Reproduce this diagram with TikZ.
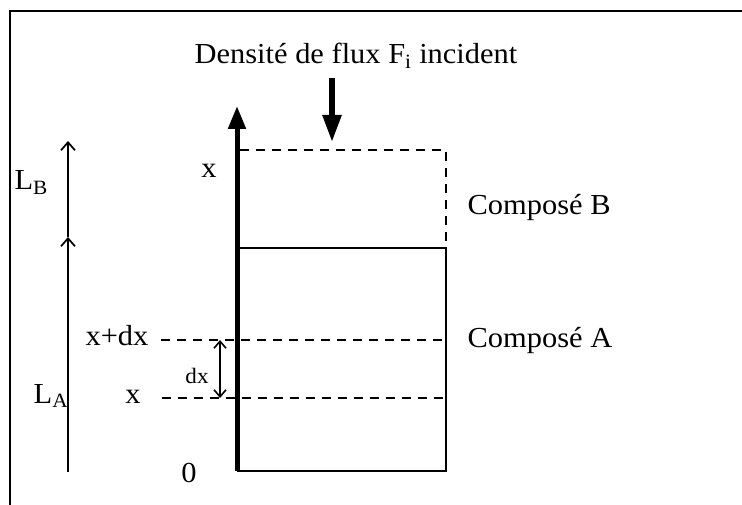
\documentclass[tikz,border=0pt]{standalone}
\usepackage{fontspec}
\setmainfont[FakeStretch=1.05]{Liberation Serif}
\usetikzlibrary{arrows.meta}

\begin{document}
\begin{tikzpicture}[x=1pt, y=-1pt, line width=1.3pt]
        \tikzstyle{lbl} = [inner sep=0pt, anchor=base, font=\fontsize{29}{33}\selectfont]
        \tikzstyle{small} = [inner sep=0pt, anchor=base, font=\fontsize{22}{26}\selectfont]
        \tikzstyle{open} = [-{Straight Barb[length=8pt, width=14pt]}, line width=1.7pt]
        \tikzstyle{level} = [dash pattern=on 9pt off 7pt]

        \useasboundingbox (0,0) rectangle (742,505);
        % frame (top and left only)
        \draw (10,505) -- (10,11) -- (742,11);

        % corners of the two layers
        \coordinate (o) at (237,471);
        \coordinate (a) at (237,248);
        \coordinate (ar) at (446,248);
        \coordinate (or) at (446,471);
        \coordinate (b) at (240,150);
        \coordinate (br) at (446,150);
        \coordinate (top) at (237,106);

        % thickness arrows on the left
        \coordinate (la0) at (68,472);
        \coordinate (la1) at (68,237);
        \coordinate (lb1) at (68,141);
        \draw [open] (la0) -- (la1);
        \draw [open] (la1) -- (lb1);
        \node [lbl, anchor=base west] (LB) at (14,190) {L\textsubscript{B}};
        \node [lbl, anchor=base west] (LA) at (33,403) {L\textsubscript{A}};

        % compound A and B
        \draw (a) -- (ar) -- (or) -- (o);
        \draw [level] (b) -- (br) -- (ar);
        \draw [-{Triangle[length=23pt, width=17pt]}, line width=5pt] (o) -- (top);

        % incident flux
        \node [lbl] (flux) at (356,64) {Densité de flux F\textsubscript{i} incident};
        \coordinate (f0) at (332,78);
        \coordinate (f1) at (332,142);
        \draw [-{Triangle[length=27pt, width=18pt]}, line width=5.5pt] (f0) -- (f1);

        % slice dx
        \coordinate (xdxl) at (161,340);
        \coordinate (xdxr) at (446,340);
        \coordinate (xl) at (162,398);
        \coordinate (xr) at (446,398);
        \draw [level] (xdxl) -- (xdxr);
        \draw [level] (xl) -- (xr);
        \coordinate (d0) at (220,340);
        \coordinate (d1) at (220,398);
        \draw [{Straight Barb[length=7pt, width=12pt]}-{Straight Barb[length=7pt, width=12pt]}, line width=1.6pt] (d0) -- (d1);
        \node [small] (dx) at (197,383) {dx};

        % labels
        \node [lbl] (xtop) at (209,178) {x};
        \node [lbl] (xdx) at (117,345) {x+dx};
        \node [lbl] (x) at (133,403) {x};
        \node [lbl] (zero) at (189,482) {0};
        \node [lbl, anchor=base west] (cb) at (467,215) {Composé B};
        \node [lbl, anchor=base west] (ca) at (467,347) {Composé A};
    \end{tikzpicture}
\end{document}
